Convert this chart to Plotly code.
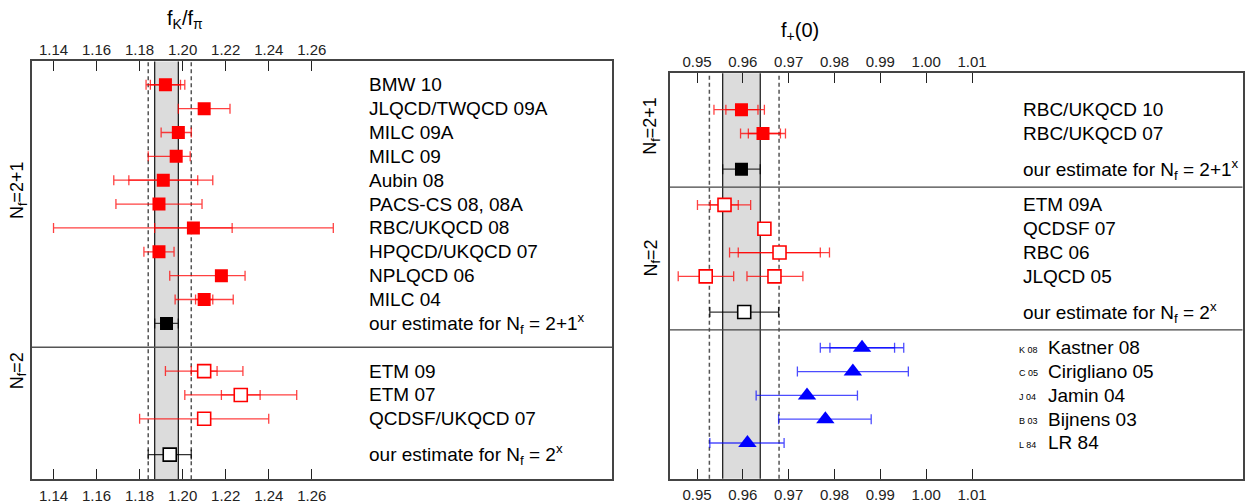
import plotly.graph_objects as go

# ---------------- Left panel: f_K / f_pi ----------------
fk_labels_21 = ["BMW 10", "JLQCD/TWQCD 09A", "MILC 09A", "MILC 09", "Aubin 08",
                "PACS-CS 08, 08A", "RBC/UKQCD 08", "HPQCD/UKQCD 07", "NPLQCD 06", "MILC 04"]
fk_val_21 = [1.192, 1.210, 1.198, 1.197, 1.191, 1.189, 1.205, 1.189, 1.218, 1.210]
fk_lo_21 = [1.183, 1.198, 1.190, 1.184, 1.168, 1.169, 1.140, 1.182, 1.194, 1.1965]
fk_hi_21 = [1.201, 1.222, 1.204, 1.2035, 1.214, 1.209, 1.270, 1.196, 1.229, 1.2235]
fk_ilo_21 = [1.185, None, None, None, 1.175, None, 1.187, None, None, 1.206]
fk_ihi_21 = [1.199, None, None, None, 1.207, None, 1.223, None, None, 1.214]
fk_est_21 = [1.1925, 1.187, 1.198]   # value, low, high

fk_labels_2 = ["ETM 09", "ETM 07", "QCDSF/UKQCD 07"]
fk_val_2 = [1.210, 1.227, 1.210]
fk_lo_2 = [1.192, 1.201, 1.180]
fk_hi_2 = [1.228, 1.253, 1.240]
fk_ilo_2 = [1.204, 1.218, None]
fk_ihi_2 = [1.216, 1.236, None]
fk_est_2 = [1.194, 1.184, 1.204]

fk_band = [1.187, 1.198]
fk_dash = [1.184, 1.204]
fk_ticks = [1.14, 1.16, 1.18, 1.20, 1.22, 1.24, 1.26]

# ---------------- Right panel: f_+(0) ----------------
fp_labels_21 = ["RBC/UKQCD 10", "RBC/UKQCD 07"]
fp_pts_21 = ["RBC/UKQCD 10", "RBC/UKQCD 07"]
fp_val_21 = [0.9597, 0.9644]
fp_lo_21 = [0.9537, 0.9595]
fp_hi_21 = [0.9647, 0.9693]
fp_ilo_21 = [0.9563, 0.9612]
fp_ihi_21 = [0.9633, 0.9682]
fp_est_21 = [0.9597, 0.9556, 0.9638]

fp_labels_2 = ["ETM 09A", "QCDSF 07", "RBC 06", "JLQCD 05"]
fp_pts_2 = ["ETM 09A", "QCDSF 07", "RBC 06", "JLQCD 05", "JLQCD 05"]
fp_val_2 = [0.9560, 0.9647, 0.9680, 0.9519, 0.9669]
fp_lo_2 = [0.9501, None, 0.9571, 0.9459, 0.9609]
fp_hi_2 = [0.9617, None, 0.9789, 0.9580, 0.9731]
fp_ilo_2 = [0.9529, None, 0.9590, None, None]
fp_ihi_2 = [0.9590, None, 0.9769, None, None]
fp_est_2 = [0.9603, 0.9528, 0.9678]

fp_labels_nl = ["Kastner 08", "Cirigliano 05", "Jamin 04", "Bijnens 03", "LR 84"]
fp_tags_nl = ["K 08", "C 05", "J 04", "B 03", "L 84"]
fp_val_nl = [0.986, 0.984, 0.974, 0.978, 0.961]
fp_lo_nl = [0.9769, 0.9719, 0.9629, 0.9678, 0.9528]
fp_hi_nl = [0.9951, 0.9961, 0.9850, 0.9880, 0.9690]
fp_ilo_nl = [0.9790, None, None, None, None]
fp_ihi_nl = [0.9931, None, None, None, None]

fp_band = [0.9556, 0.9638]
fp_dash = [0.9527, 0.9679]
fp_ticks = [0.95, 0.96, 0.97, 0.98, 0.99, 1.00, 1.01]

# ---------------- styling / layout helpers ----------------
W, H = 1250, 504
FONT = "Liberation Sans, Arial, Helvetica, sans-serif"
RED = "#ff0000"
RED_ERR = "rgba(255,0,0,0.75)"
BLUE = "#0000ff"
BLUE_ERR = "rgba(0,0,255,0.7)"
LAB_SIZE = 19
MSIZE = 13


def px(xp):
    return xp / W


def py(yp):
    return 1 - yp / H


fig = go.Figure()
annotations = []
shapes = []


def add_points(xa, ya, xs, ys, lo, hi, ilo, ihi, color, ecolor, symbol, size, fill, lw):
    # inner (statistical) bars
    ix, iy, ia, iam = [], [], [], []
    for x, y, a, b in zip(xs, ys, ilo, ihi):
        if a is not None:
            ix.append(x); iy.append(y); ia.append(b - x); iam.append(x - a)
    if ix:
        fig.add_trace(go.Scatter(
            x=ix, y=iy, xaxis=xa, yaxis=ya, mode="markers",
            marker=dict(size=1, color="rgba(0,0,0,0)"),
            error_x=dict(type="data", symmetric=False, array=ia, arrayminus=iam,
                         color=ecolor, thickness=1.3, width=5),
            showlegend=False, hoverinfo="skip"))
    # outer (total) bars + markers
    ea = [(b - x) if b is not None else 0 for x, b in zip(xs, hi)]
    eam = [(x - a) if a is not None else 0 for x, a in zip(xs, lo)]
    fig.add_trace(go.Scatter(
        x=xs, y=ys, xaxis=xa, yaxis=ya, mode="markers",
        marker=dict(symbol=symbol, size=size, color=fill,
                    line=dict(color=color, width=lw)),
        error_x=dict(type="data", symmetric=False, array=ea, arrayminus=eam,
                     color=ecolor, thickness=1.3, width=5),
        showlegend=False))


def add_label(xref_px, y, yref, text, size=LAB_SIZE, xanchor="left"):
    annotations.append(dict(x=px(xref_px), xref="paper", y=y, yref=yref, text=text,
                            showarrow=False, xanchor=xanchor, yanchor="middle",
                            font=dict(family=FONT, size=size, color="black")))


# ----- left panel rows -----
L_rows21 = list(range(len(fk_labels_21)))
L_est21 = len(fk_labels_21)
L_sep = L_est21 + 1
L_rows2 = [L_sep + 1 + i for i in range(len(fk_labels_2))]
L_est2 = L_rows2[-1] + 1.5

add_points("x", "y", fk_val_21, L_rows21, fk_lo_21, fk_hi_21, fk_ilo_21, fk_ihi_21,
           RED, RED_ERR, "square", MSIZE, RED, 0)
add_points("x", "y", [fk_est_21[0]], [L_est21], [fk_est_21[1]], [fk_est_21[2]], [None], [None],
           "black", "rgba(0,0,0,0.75)", "square", MSIZE, "black", 0)
add_points("x", "y", fk_val_2, L_rows2, fk_lo_2, fk_hi_2, fk_ilo_2, fk_ihi_2,
           RED, RED_ERR, "square", MSIZE, "white", 1.6)
add_points("x", "y", [fk_est_2[0]], [L_est2], [fk_est_2[1]], [fk_est_2[2]], [None], [None],
           "black", "rgba(0,0,0,0.8)", "square", MSIZE, "white", 1.6)

LX = 367
for lab, r in zip(fk_labels_21, L_rows21):
    add_label(LX, r, "y", lab)
add_label(LX, L_est21, "y", "our estimate for N<sub>f</sub> = 2+1<sup>x</sup>")
for lab, r in zip(fk_labels_2, L_rows2):
    add_label(LX, r, "y", lab)
add_label(LX, L_est2, "y", "our estimate for N<sub>f</sub> = 2<sup>x</sup>")

# ----- right panel rows -----
R_rows21 = list(range(len(fp_labels_21)))
R_est21 = R_rows21[-1] + 1.5
R_sep1 = R_est21 + 0.75
R_rows2 = [R_sep1 + 0.75 + i for i in range(len(fp_labels_2))]
R_est2 = R_rows2[-1] + 1.5
R_sep2 = R_est2 + 0.75
R_rowsnl = [R_sep2 + 0.75 + i for i in range(len(fp_labels_nl))]

y21 = [R_rows21[fp_labels_21.index(p)] for p in fp_pts_21]
y2 = [R_rows2[fp_labels_2.index(p)] for p in fp_pts_2]

add_points("x2", "y2", fp_val_21, y21, fp_lo_21, fp_hi_21, fp_ilo_21, fp_ihi_21,
           RED, RED_ERR, "square", MSIZE, RED, 0)
add_points("x2", "y2", [fp_est_21[0]], [R_est21], [fp_est_21[1]], [fp_est_21[2]], [None], [None],
           "black", "rgba(0,0,0,0.75)", "square", MSIZE, "black", 0)
add_points("x2", "y2", fp_val_2, y2, fp_lo_2, fp_hi_2, fp_ilo_2, fp_ihi_2,
           RED, RED_ERR, "square", MSIZE, "white", 1.6)
add_points("x2", "y2", [fp_est_2[0]], [R_est2], [fp_est_2[1]], [fp_est_2[2]], [None], [None],
           "black", "rgba(0,0,0,0.8)", "square", MSIZE, "white", 1.6)
add_points("x2", "y2", fp_val_nl, R_rowsnl, fp_lo_nl, fp_hi_nl, fp_ilo_nl, fp_ihi_nl,
           BLUE, BLUE_ERR, "triangle-up", 16, BLUE, 0)

RX = 1021
for lab, r in zip(fp_labels_21, R_rows21):
    add_label(RX, r, "y2", lab)
add_label(RX, R_est21, "y2", "our estimate for N<sub>f</sub> = 2+1<sup>x</sup>")
for lab, r in zip(fp_labels_2, R_rows2):
    add_label(RX, r, "y2", lab)
add_label(RX, R_est2, "y2", "our estimate for N<sub>f</sub> = 2<sup>x</sup>")
for lab, tag, r in zip(fp_labels_nl, fp_tags_nl, R_rowsnl):
    add_label(1017, r + 0.08, "y2", tag, size=9)
    add_label(1046, r, "y2", lab)

# ----- bands, dashed lines, separators -----
for xa, ya, band, dash in [("x", "y", fk_band, fk_dash), ("x2", "y2", fp_band, fp_dash)]:
    shapes.append(dict(type="rect", xref=xa, yref=ya + " domain", x0=band[0], x1=band[1],
                       y0=0, y1=1, fillcolor="#dcdcdc", line=dict(width=0), layer="below"))
    for b in band:
        shapes.append(dict(type="line", xref=xa, yref=ya + " domain", x0=b, x1=b, y0=0, y1=1,
                           line=dict(color="#222", width=1.3), layer="below"))
    for d in dash:
        shapes.append(dict(type="line", xref=xa, yref=ya + " domain", x0=d, x1=d, y0=0, y1=1,
                           line=dict(color="#555", width=1.5, dash="4px,3px"), layer="below"))

shapes.append(dict(type="line", xref="x domain", yref="y", x0=0, x1=1, y0=L_sep, y1=L_sep,
                   line=dict(color="#555", width=1.5)))
for s in (R_sep1, R_sep2):
    shapes.append(dict(type="line", xref="x2 domain", yref="y2", x0=0, x1=1, y0=s, y1=s,
                       line=dict(color="#444", width=1.3)))

# ----- group labels & titles -----
for xp_, yp_, txt in [(18, 192, "N<sub>f</sub>=2+1"), (18, 375, "N<sub>f</sub>=2"),
                      (652, 127, "N<sub>f</sub>=2+1"), (652, 260, "N<sub>f</sub>=2")]:
    annotations.append(dict(x=px(xp_), y=py(yp_), xref="paper", yref="paper", text=txt,
                            textangle=-90, showarrow=False, xanchor="center", yanchor="middle",
                            font=dict(family=FONT, size=18, color="black")))
annotations.append(dict(x=px(185), y=py(20), xref="paper", yref="paper",
                        text="f<sub>K</sub>/f<sub>π</sub>", showarrow=False,
                        xanchor="center", yanchor="middle",
                        font=dict(family=FONT, size=20, color="black")))
annotations.append(dict(x=px(800), y=py(32), xref="paper", yref="paper",
                        text="f<sub>+</sub>(0)", showarrow=False,
                        xanchor="center", yanchor="middle",
                        font=dict(family=FONT, size=20, color="black")))

# ----- axes -----
L_dom_x = [px(32), px(612)]
R_dom_x = [px(669.5), px(1242.5)]
L_dom_y = [py(484), py(62)]
R_dom_y = [py(483.5), py(74)]
TICKFONT = dict(family=FONT, size=15, color="#222")


def xaxis_main(dom, rng, ticks, anchor):
    return dict(domain=dom, range=rng, anchor=anchor, side="bottom",
                tickvals=ticks, ticktext=["%.2f" % t for t in ticks],
                ticks="inside", ticklen=10, tickwidth=1.3, tickcolor="#222",
                showline=True, linecolor="#444", linewidth=1.5, mirror="ticks",
                showgrid=False, zeroline=False, ticklabelstandoff=2,
                tickfont=TICKFONT)


def xaxis_top(over, rng, ticks, anchor):
    return dict(overlaying=over, range=rng, anchor=anchor, side="top",
                tickvals=ticks, ticktext=["%.2f" % t for t in ticks],
                ticks="", showline=False, showgrid=False, zeroline=False,
                ticklabelstandoff=2, tickfont=TICKFONT)


def yaxis(dom, rng, anchor):
    return dict(domain=dom, range=rng, anchor=anchor, showticklabels=False, ticks="",
                showline=True, linecolor="#444", linewidth=1.5, mirror=True,
                showgrid=False, zeroline=False)


L_rng = [1.130, 1.3995]
R_rng = [0.9440, 1.0690]
fig.update_layout(
    width=W, height=H, margin=dict(l=0, r=0, t=0, b=0),
    paper_bgcolor="white", plot_bgcolor="white",
    xaxis=xaxis_main(L_dom_x, L_rng, fk_ticks, "y"),
    xaxis2=xaxis_main(R_dom_x, R_rng, fp_ticks, "y2"),
    xaxis3=xaxis_top("x", L_rng, fk_ticks, "y"),
    xaxis4=xaxis_top("x2", R_rng, fp_ticks, "y2"),
    yaxis=yaxis(L_dom_y, [L_est2 + 1.03, -0.98], "x"),
    yaxis2=yaxis(R_dom_y, [R_rowsnl[-1] + 1.5, -1.53], "x2"),
    shapes=shapes, annotations=annotations, showlegend=False,
)
# dummy traces so the top axes render
fig.add_trace(go.Scatter(x=[None], y=[None], xaxis="x3", yaxis="y", showlegend=False))
fig.add_trace(go.Scatter(x=[None], y=[None], xaxis="x4", yaxis="y2", showlegend=False))

fig.write_html("out.html")
